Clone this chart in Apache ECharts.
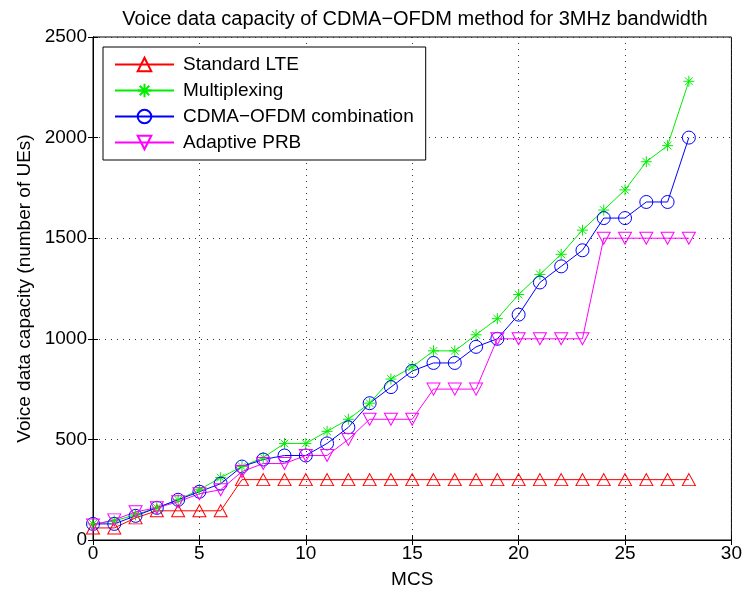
<!DOCTYPE html>
<html>
<head>
<meta charset="utf-8">
<script src="https://cdn.jsdelivr.net/npm/echarts@6/dist/echarts.min.js"></script>
<style>
  html, body { margin: 0; padding: 0; background: #fff; }
  #main { width: 745px; height: 594px; }
</style>
</head>
<body>
<div id="main"></div>
<script>
// MCS 0..28
var mcs = [0,1,2,3,4,5,6,7,8,9,10,11,12,13,14,15,16,17,18,19,20,21,22,23,24,25,26,27,28];

// 各方案的语音容量
var standardLTE = [60,60,110,145,145,145,145,300,300,300,300,300,300,300,300,300,300,300,300,300,300,300,300,300,300,300,300,300,300];
var multiplexing = [80,95,125,160,200,250,310,365,410,480,480,540,600,680,800,860,940,940,1020,1100,1220,1320,1420,1540,1640,1740,1880,1960,2280];
var cdmaOfdm = [80,80,120,160,200,240,280,365,400,420,420,480,560,680,760,840,880,880,960,1000,1120,1280,1360,1440,1600,1600,1680,1680,2000];
var adaptivePRB = [75,100,140,160,190,230,250,340,380,380,420,420,500,600,600,600,750,750,750,1000,1000,1000,1000,1000,1500,1500,1500,1500,1500];

var xTicks = [0,5,10,15,20,25,30];
var yTicks = [0,500,1000,1500,2000,2500];

var font = 'Liberation Sans, Arial, Helvetica, sans-serif';
var asterisk = 'path://M0,-5L0,5M-5,0L5,0M-3.5,-3.5L3.5,3.5M-3.5,3.5L3.5,-3.5';

function pairs(arr) {
    return arr.map(function (v, i) { return [mcs[i], v]; });
}

function makeSeries(name, data, color, symbol, size, rotate) {
    return {
        name: name,
        type: 'line',
        data: pairs(data),
        symbol: symbol,
        symbolSize: size,
        symbolRotate: rotate || 0,
        showAllSymbol: true,
        lineStyle: { color: color, width: 1 },
        itemStyle: { color: 'rgba(0,0,0,0)', borderColor: color, borderWidth: 1 },
        emphasis: { disabled: true },
        animation: false
    };
}

var myChart = echarts.init(document.getElementById('main'));

var axisCommon = {
    type: 'value',
    axisLine: { show: true, lineStyle: { color: '#000', width: 1 } },
    axisTick: { show: true, inside: true, length: 5, lineStyle: { color: '#000' } },
    axisLabel: { color: '#000', fontSize: 19, fontFamily: font, formatter: function (v) { return String(v); } },
    splitLine: { show: false }
};

var option = {
    backgroundColor: '#fff',
    title: {
        text: 'Voice data capacity of CDMA\u2212OFDM method for 3MHz bandwidth',
        left: 410,
        textAlign: 'center',
        top: 4,
        textStyle: { fontSize: 20, fontWeight: 'normal', color: '#000', fontFamily: font }
    },
    legend: {
        left: 103,
        top: 47,
        orient: 'vertical',
        backgroundColor: '#fff',
        borderColor: '#000',
        borderWidth: 1,
        padding: [8, 12, 8, 11],
        itemWidth: 59,
        itemHeight: 17,
        itemGap: 7,
        textStyle: { fontSize: 19, color: '#000', fontFamily: font, padding: [0, 0, 0, 4] },
        data: ['Standard LTE', 'Multiplexing', 'CDMA\u2212OFDM combination', 'Adaptive PRB']
    },
    grid: {
        left: 93, right: 6, top: 37, bottom: 54,
        show: true, borderColor: '#000', borderWidth: 1
    },
    xAxis: [
        echarts.util.merge({
            min: 0, max: 30, interval: 5,
            name: 'MCS', nameLocation: 'middle', nameGap: 30,
            nameTextStyle: { fontSize: 19, color: '#000', fontFamily: font },
            axisLabel: { margin: 4 },
            splitLine: { show: true, lineStyle: { color: '#333', type: [1, 5], width: 1 } }
        }, axisCommon, false),
        echarts.util.merge({
            min: 0, max: 30, interval: 5, position: 'top',
            axisLabel: { show: false }
        }, axisCommon, false)
    ],
    yAxis: [
        echarts.util.merge({
            min: 0, max: 2500, interval: 500,
            name: 'Voice data capacity (number of UEs)', nameLocation: 'middle', nameGap: 59,
            nameTextStyle: { fontSize: 19, color: '#000', fontFamily: font },
            axisLabel: { margin: 6 },
            splitLine: { show: true, lineStyle: { color: '#333', type: [1, 5], width: 1 } }
        }, axisCommon, false),
        echarts.util.merge({
            min: 0, max: 2500, interval: 500, position: 'right',
            axisLabel: { show: false }
        }, axisCommon, false)
    ],
    series: [
        makeSeries('Standard LTE', standardLTE, '#ff0000', 'triangle', [13, 12]),
        makeSeries('Multiplexing', multiplexing, '#00ee00', asterisk, 11),
        makeSeries('CDMA\u2212OFDM combination', cdmaOfdm, '#0000ff', 'circle', 13),
        makeSeries('Adaptive PRB', adaptivePRB, '#ff00ff', 'triangle', [13, 12], 180)
    ]
};

myChart.setOption(option);
window.onresize = myChart.resize;
</script>
</body>
</html>
